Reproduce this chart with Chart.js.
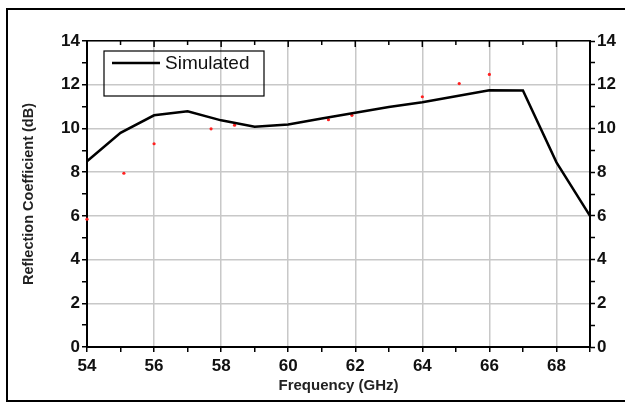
<!DOCTYPE html>
<html>
<head>
<meta charset="utf-8">
<script src="https://cdn.jsdelivr.net/npm/chart.js@4.4.1/dist/chart.umd.min.js"></script>
<style>
  html, body { margin: 0; padding: 0; background: #fff; }
  #wrap { position: absolute; left: 0; top: 0; width: 625px; height: 403px; }
</style>
</head>
<body>
<div id="wrap"><canvas id="lineChart" width="625" height="403"></canvas></div>
<script>
// frequency points (GHz) and simulated reflection coefficient (dB)
const freqs = [54, 55, 56, 57, 58, 59, 60, 61, 62, 63, 64, 65, 66, 67, 68, 69];
const simulated = [8.5, 9.8, 10.6, 10.78, 10.37, 10.08, 10.18, 10.45, 10.72, 10.98, 11.2, 11.47, 11.75, 11.74, 8.45, 6.0];

// faint red specks left in the picture
const redFreqs = [54, 55.1, 56, 57.7, 58.4, 61.2, 61.9, 64, 65.1, 66];
const redValues = [5.85, 7.95, 9.3, 9.98, 10.15, 10.4, 10.6, 11.45, 12.05, 12.47];

const xTicks = [54, 56, 58, 60, 62, 64, 66, 68];
const yTicks = [0, 2, 4, 6, 8, 10, 12, 14];

const tickFont = { family: 'Liberation Sans, Arial, sans-serif', size: 17, weight: 'bold' };

const framePlugin = {
    id: 'frame',
    afterDraw(chart) {
        const ctx = chart.ctx;
        const area = chart.chartArea;
        const xs = chart.scales.x;
        ctx.save();
        // outer frame
        ctx.strokeStyle = '#000';
        ctx.lineWidth = 2;
        ctx.strokeRect(7, 9, 640, 392);
        // top axis ticks pointing inward
        ctx.lineWidth = 1.5;
        for (let v = 54; v <= 69; v++) {
            const px = xs.getPixelForValue(v);
            const len = (v % 2 === 0) ? 6 : 4;
            ctx.beginPath();
            ctx.moveTo(px, area.top);
            ctx.lineTo(px, area.top + len);
            ctx.stroke();
        }
        // legend
        ctx.lineWidth = 1.2;
        ctx.strokeRect(104, 51, 160, 45);
        ctx.lineWidth = 2.5;
        ctx.beginPath();
        ctx.moveTo(112, 63);
        ctx.lineTo(160, 63);
        ctx.stroke();
        ctx.fillStyle = '#111';
        ctx.font = '19px Liberation Sans, Arial, sans-serif';
        ctx.textBaseline = 'middle';
        ctx.fillText(chart.data.datasets[0].label, 165, 64);
        ctx.restore();
    }
};

const evenGrid = (c) => (c.tick && c.tick.value % 2 === 0) ? '#c8c8c8' : 'rgba(0,0,0,0)';

const ctx = document.getElementById('lineChart').getContext('2d');
const myChart = new Chart(ctx, {
    type: 'line',
    data: {
        datasets: [{
            label: 'Simulated',
            data: freqs.map((f, i) => ({ x: f, y: simulated[i] })),
            borderColor: '#000',
            borderWidth: 2.5,
            pointRadius: 0,
            tension: 0,
            fill: false,
            clip: false
        }, {
            label: 'specks',
            type: 'scatter',
            data: redFreqs.map((f, i) => ({ x: f, y: redValues[i] })),
            backgroundColor: '#ff2020',
            borderWidth: 0,
            pointRadius: 1.6,
            clip: false
        }]
    },
    options: {
        responsive: false,
        animation: false,
        layout: { padding: 0 },
        plugins: {
            legend: { display: false },
            tooltip: { enabled: false }
        },
        scales: {
            x: {
                type: 'linear',
                position: 'bottom',
                min: 54,
                max: 69,
                afterFit: (s) => { s.height = 56; },
                afterBuildTicks: (s) => { s.ticks = freqs.map(v => ({ value: v })); },
                ticks: {
                    autoSkip: false,
                    maxRotation: 0,
                    padding: 4,
                    color: '#111',
                    font: tickFont,
                    callback: (v) => xTicks.includes(v) ? v : ''
                },
                grid: {
                    color: evenGrid,
                    lineWidth: 1.5,
                    tickColor: '#000',
                    tickLength: 5,
                    tickWidth: 1.5
                },
                border: { display: true, color: '#000', width: 2 },
                title: {
                    display: true,
                    text: 'Frequency (GHz)',
                    color: '#222',
                    font: { family: 'Liberation Sans, Arial, sans-serif', size: 15, weight: 'bold' },
                    padding: { top: 0, bottom: 8 }
                }
            },
            x2: {
                type: 'linear',
                position: 'top',
                min: 54,
                max: 69,
                afterFit: (s) => { s.height = 41; },
                ticks: { display: false },
                grid: { display: false, drawTicks: false },
                border: { display: true, color: '#000', width: 1.5 }
            },
            y: {
                position: 'left',
                min: 0,
                max: 14,
                afterFit: (s) => { s.width = 87; },
                afterBuildTicks: (s) => {
                    const t = [];
                    for (let v = 0; v <= 14; v++) t.push({ value: v });
                    s.ticks = t;
                },
                ticks: {
                    autoSkip: false,
                    padding: 2,
                    color: '#111',
                    font: tickFont,
                    callback: (v) => yTicks.includes(v) ? v : ''
                },
                grid: {
                    color: evenGrid,
                    lineWidth: 1.5,
                    tickColor: '#000',
                    tickLength: 5,
                    tickWidth: 1.5
                },
                border: { display: true, color: '#000', width: 2 },
                title: {
                    display: true,
                    text: 'Reflection Coefficient (dB)',
                    color: '#222',
                    font: { family: 'Liberation Sans, Arial, sans-serif', size: 14.5, weight: 'bold' },
                    padding: { top: 20, bottom: 0 }
                }
            },
            y2: {
                position: 'right',
                min: 0,
                max: 14,
                afterFit: (s) => { s.width = 35; },
                afterBuildTicks: (s) => {
                    const t = [];
                    for (let v = 0; v <= 14; v++) t.push({ value: v });
                    s.ticks = t;
                },
                ticks: {
                    autoSkip: false,
                    padding: 2,
                    color: '#111',
                    font: tickFont,
                    callback: (v) => yTicks.includes(v) ? v : ''
                },
                grid: {
                    drawOnChartArea: false,
                    tickColor: '#000',
                    tickLength: 5,
                    tickWidth: 1.5
                },
                border: { display: true, color: '#000', width: 2 }
            }
        }
    },
    plugins: [framePlugin]
});
</script>
</body>
</html>
